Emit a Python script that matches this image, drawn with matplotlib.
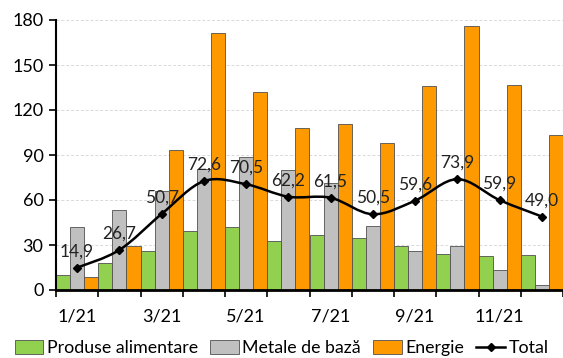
import matplotlib.pyplot as plt
import numpy as np
from matplotlib.path import Path
from matplotlib.patches import PathPatch
from matplotlib.lines import Line2D
from matplotlib.patches import Patch

plt.rcParams['font.family'] = ['Lato', 'DejaVu Sans']

months = ['1/21', '2/21', '3/21', '4/21', '5/21', '6/21',
          '7/21', '8/21', '9/21', '10/21', '11/21', '12/21']
food = [10.0, 17.8, 25.8, 39.1, 42.0, 32.4, 36.4, 34.7, 29.1, 24.2, 22.7, 23.6]
metals = [42.0, 53.3, 66.0, 80.4, 88.9, 79.8, 71.4, 42.4, 25.8, 29.3, 13.1, 3.3]
energy = [8.7, 29.6, 93.3, 171.6, 131.8, 108.2, 110.4, 97.8, 135.8, 175.8, 136.7, 103.1]
total = [14.9, 26.7, 50.7, 72.6, 70.5, 62.2, 61.5, 50.5, 59.6, 73.9, 59.9, 49.0]

c_food = '#92D050'
c_metals = '#C0C0C0'
c_energy = '#FF9900'
edge = '#505050'

fig = plt.figure(figsize=(5.63, 3.58), dpi=100)
ax = fig.add_axes([56 / 563, 1 - 290 / 358, 1 - 56 / 563, 270 / 358])

x = np.arange(len(months))
w = 1 / 3
ax.bar(x - w, food, w, color=c_food, edgecolor=edge, linewidth=0.6, zorder=2)
ax.bar(x, metals, w, color=c_metals, edgecolor=edge, linewidth=0.6, zorder=2)
ax.bar(x + w, energy, w, color=c_energy, edgecolor=edge, linewidth=0.6, zorder=2)

# smoothed total line (Catmull-Rom as cubic Bezier segments)
pts = np.column_stack([x, total]).astype(float)
verts = [pts[0]]
codes = [Path.MOVETO]
n = len(pts)
for i in range(n - 1):
    p0 = pts[i - 1] if i > 0 else pts[i]
    p1 = pts[i]
    p2 = pts[i + 1]
    p3 = pts[i + 2] if i + 2 < n else pts[i + 1]
    b1 = p1 + (p2 - p0) / 6
    b2 = p2 - (p3 - p1) / 6
    verts += [b1, b2, p2]
    codes += [Path.CURVE4] * 3
ax.add_patch(PathPatch(Path(verts, codes), fill=False, edgecolor='black',
                       linewidth=1.8, zorder=3))
ax.plot(x, total, linestyle='none', marker='D', markersize=4.5,
        color='black', zorder=4)

for xi, t in zip(x, total):
    ax.text(xi, t + 5.5, f'{t:.1f}'.replace('.', ','), ha='center', va='bottom',
            fontsize=12.5, color='#222222', zorder=5)

ax.set_xlim(-0.5, 11.5)
ax.set_ylim(0, 180)
ax.set_yticks(np.arange(0, 181, 30))
ax.yaxis.grid(True, color='#D9D9D9', linestyle=(0, (3, 2)), linewidth=0.7)
ax.set_axisbelow(True)

ax.set_xticks(np.arange(-0.5, 12, 1))
ax.set_xticklabels([])
ax.set_xticks(x[::2], [months[i] for i in x[::2]], minor=True)
ax.tick_params(axis='x', which='major', length=5, width=1.2, direction='out')
ax.tick_params(axis='x', which='minor', length=0, pad=13, labelsize=13)
ax.tick_params(axis='y', length=5, width=1.2, direction='out', labelsize=13, pad=4)

for s in ['top', 'right']:
    ax.spines[s].set_visible(False)
ax.spines['left'].set_linewidth(1.5)
ax.spines['bottom'].set_linewidth(2)

handles = [Patch(facecolor=c_food, edgecolor=edge, linewidth=0.6),
           Patch(facecolor=c_metals, edgecolor=edge, linewidth=0.6),
           Patch(facecolor=c_energy, edgecolor=edge, linewidth=0.6),
           Line2D([], [], color='black', linewidth=1.8, marker='D', markersize=4)]
fig.legend(handles, ['Produse alimentare', 'Metale de bază', 'Energie', 'Total'],
           loc='center', bbox_to_anchor=(0.5, 1 - 348 / 358), ncol=4, frameon=False,
           fontsize=12.8, handlelength=1.6, handleheight=0.8, handletextpad=0.2,
           columnspacing=0.7, borderaxespad=0)

fig.savefig('out.png', dpi=100)
